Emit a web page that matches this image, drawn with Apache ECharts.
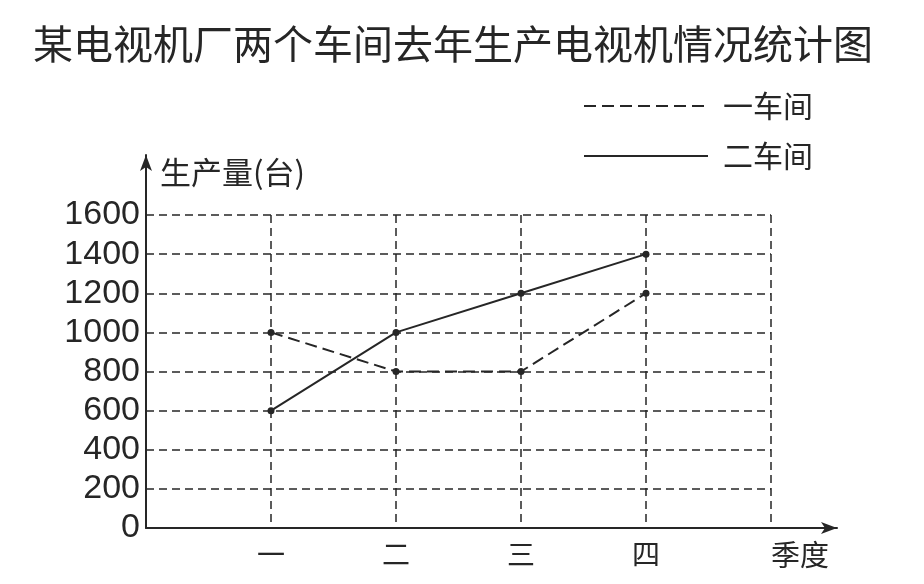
<!DOCTYPE html>
<html>
<head>
<meta charset="utf-8">
<script src="https://cdn.jsdelivr.net/npm/echarts@6/dist/echarts.min.js"></script>
<style>
html,body{margin:0;padding:0;background:#fff;}
#chart{width:924px;height:584px;}
</style>
</head>
<body>
<div id="chart"></div>
<script>
var titleText = '某电视机厂两个车间去年生产电视机情况统计图';
var categories = ['一', '二', '三', '四'];
var seriesNames = ['一车间', '二车间'];
var workshop1 = [1000, 800, 800, 1200];
var workshop2 = [600, 1000, 1200, 1400];
var yTicks = [0, 200, 400, 600, 800, 1000, 1200, 1400, 1600];
var xAxisName = '季度';
var yAxisName = '生产量(台)';

var ink = '#262626';
var cjk = '"Noto Sans CJK SC", sans-serif';
var latin = '"Liberation Sans", Arial, sans-serif';

function pairs(vals) {
  return vals.map(function (v, i) { return [i + 1, v]; });
}

var chart = echarts.init(document.getElementById('chart'), null, {renderer: 'canvas'});
chart.setOption({
  backgroundColor: '#fff',
  animation: false,
  title: {
    text: titleText,
    left: 28,
    top: 19,
    textStyle: {fontFamily: cjk, fontSize: 40, fontWeight: 'normal', color: ink}
  },
  legend: {
    orient: 'vertical',
    left: 578,
    top: 86,
    itemWidth: 124,
    itemHeight: 2,
    itemGap: 20,
    itemStyle: {opacity: 0},
    textStyle: {fontFamily: cjk, fontSize: 30, color: ink, padding: [0, 0, 0, 10]},
    data: seriesNames
  },
  grid: [
    {left: 146, right: 153, top: 215, bottom: 56},
    {left: 146, right: 87, top: 155, bottom: 56}
  ],
  xAxis: [
    {
      type: 'value', gridIndex: 0, min: 0, max: categories.length + 1, interval: 1,
      axisLine: {show: false},
      axisTick: {show: false},
      splitLine: {show: true, lineStyle: {color: ink, width: 1.5, type: [8, 5]}},
      axisLabel: {
        margin: 12,
        fontFamily: cjk, fontSize: 28, color: ink,
        formatter: function (v) { return categories[v - 1] || ''; }
      },
      name: xAxisName,
      nameLocation: 'end',
      nameGap: 0,
      nameTextStyle: {fontFamily: cjk, fontSize: 29, color: ink, align: 'left', verticalAlign: 'top', padding: [12, 0, 0, 0]}
    },
    {
      type: 'value', gridIndex: 1, min: 0, max: 1,
      axisLine: {show: true, lineStyle: {color: ink, width: 2}, symbol: ['none', 'arrow'], symbolSize: [9, 16]},
      axisTick: {show: false}, axisLabel: {show: false}, splitLine: {show: false}
    }
  ],
  yAxis: [
    {
      type: 'value', gridIndex: 0, min: yTicks[0], max: yTicks[yTicks.length - 1], interval: yTicks[1] - yTicks[0],
      axisLine: {show: false},
      axisTick: {show: false},
      splitLine: {show: true, lineStyle: {color: ink, width: 1.5, type: [8, 5]}},
      axisLabel: {margin: 6, fontFamily: latin, fontSize: 34, color: ink, formatter: function (v) { return String(v); }},
      name: yAxisName,
      nameLocation: 'end',
      nameGap: 43,
      nameTextStyle: {fontFamily: cjk, fontSize: 31, color: ink, align: 'left', verticalAlign: 'middle', padding: [0, 0, 0, 14]}
    },
    {
      type: 'value', gridIndex: 1, min: 0, max: 1,
      axisLine: {show: true, lineStyle: {color: ink, width: 2}, symbol: ['none', 'arrow'], symbolSize: [9, 16]},
      axisTick: {show: false}, axisLabel: {show: false}, splitLine: {show: false}
    }
  ],
  series: [
    {
      name: seriesNames[0], type: 'line', xAxisIndex: 0, yAxisIndex: 0,
      data: pairs(workshop1),
      symbol: 'circle', symbolSize: 7,
      itemStyle: {color: ink},
      lineStyle: {color: ink, width: 2, type: [12, 6]},
      z: 5
    },
    {
      name: seriesNames[1], type: 'line', xAxisIndex: 0, yAxisIndex: 0,
      data: pairs(workshop2),
      symbol: 'circle', symbolSize: 7,
      itemStyle: {color: ink},
      lineStyle: {color: ink, width: 2, type: 'solid'},
      z: 5
    }
  ]
});
</script>
</body>
</html>
